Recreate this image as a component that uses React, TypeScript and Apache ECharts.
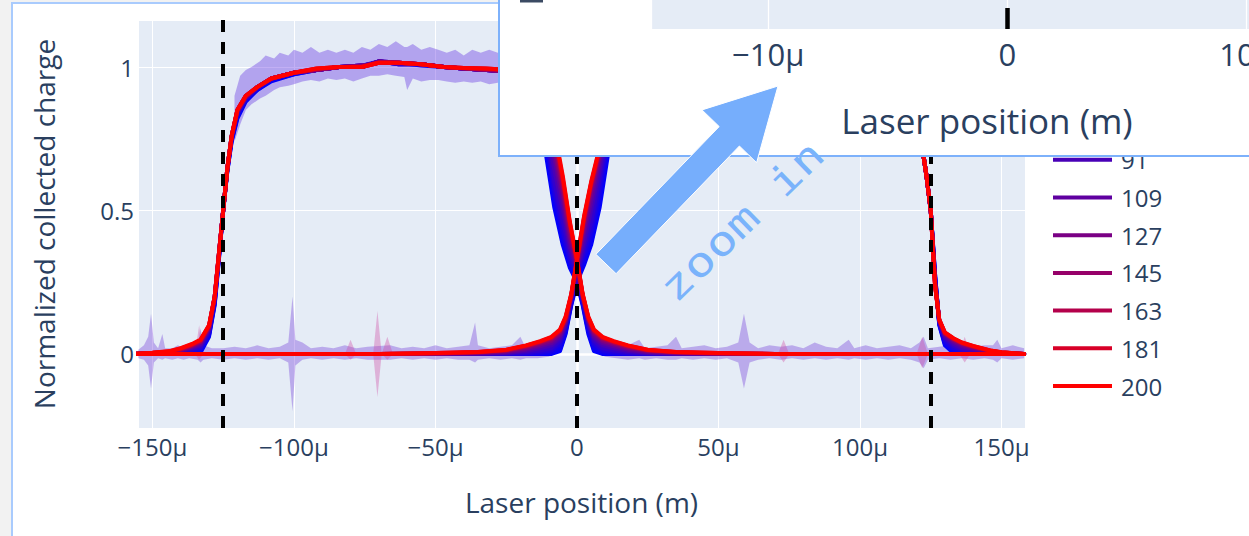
import React, { useEffect, useRef } from "react";
import * as echarts from "echarts";

// ---------------- data ----------------
const biases = ["1", "19", "37", "55", "73", "91", "109", "127", "145", "163", "181", "200"];
const biasColors = ["#0000ff", "#0600f9", "#1000ef", "#1f00e0", "#3200cd", "#4800b7", "#5f00a0", "#7a0085", "#960069", "#b4004b", "#d80027", "#ff0000"];
// legend entries visible below the inset (the earlier ones are hidden behind it)
const legendEntries = biases.slice(5);

// laser positions (µm) for the left pixel curves
const xA = [-158, -150, -144, -140, -136, -133, -130, -128, -126.5, -125, -123.5, -122, -120, -117, -113, -108, -100, -92, -84, -76, -70, -63, -55, -47, -40, -32, -24, -17, -12, -8, -5, -2.5, 0, 2, 4, 6, 9, 13, 18, 25, 35, 50, 70, 100, 130, 158];
// laser positions (µm) for the right pixel curves
const xB = [-158, -130, -100, -70, -50, -35, -25, -18, -13, -9, -6, -4, -2, 0, 2.5, 5, 8, 12, 17, 24, 32, 40, 47, 55, 63, 70, 76, 84, 92, 100, 108, 113, 117, 120, 122, 123.5, 125, 126.5, 128, 130, 133, 136, 140, 146, 150, 158];

const pixelA = [
  [0, 0, 0, 0, 0, 0.005, 0.06, 0.17, 0.33, 0.5, 0.64, 0.74, 0.82, 0.88, 0.92, 0.95, 0.975, 0.99, 1.0, 1.005, 1.02, 1.01, 1.01, 1.0, 0.995, 0.99, 0.985, 0.96, 0.76, 0.51, 0.38, 0.3, 0.25, 0.17, 0.07, 0.01, 0, 0, 0, 0, 0, 0, 0, 0, 0, 0],
  [0, 0, 0, 0, 0.002, 0.01, 0.065, 0.175, 0.335, 0.5, 0.64, 0.745, 0.825, 0.885, 0.92, 0.955, 0.975, 0.99, 1.0, 1.0, 1.02, 1.015, 1.005, 1.0, 0.995, 0.99, 0.985, 0.965, 0.78, 0.53, 0.39, 0.31, 0.255, 0.175, 0.08, 0.015, 0.002, 0, 0, 0, 0, 0, 0, 0, 0, 0],
  [0, 0, 0, 0.002, 0.005, 0.015, 0.07, 0.18, 0.34, 0.5, 0.645, 0.75, 0.83, 0.885, 0.925, 0.955, 0.98, 0.99, 1.0, 1.005, 1.015, 1.015, 1.01, 1.0, 0.995, 0.99, 0.985, 0.97, 0.8, 0.55, 0.41, 0.32, 0.26, 0.18, 0.09, 0.025, 0.006, 0.002, 0, 0, 0, 0, 0, 0, 0, 0],
  [0, 0, 0.002, 0.005, 0.01, 0.02, 0.075, 0.185, 0.34, 0.5, 0.645, 0.75, 0.835, 0.89, 0.925, 0.955, 0.98, 0.99, 1.0, 1.0, 1.02, 1.01, 1.01, 1.0, 0.995, 0.99, 0.985, 0.97, 0.83, 0.57, 0.43, 0.33, 0.27, 0.185, 0.1, 0.035, 0.012, 0.006, 0.002, 0, 0, 0, 0, 0, 0, 0],
  [0, 0, 0.003, 0.007, 0.015, 0.025, 0.08, 0.19, 0.345, 0.5, 0.65, 0.755, 0.84, 0.89, 0.925, 0.96, 0.98, 0.99, 1.0, 1.005, 1.015, 1.015, 1.01, 1.0, 0.995, 0.99, 0.985, 0.97, 0.85, 0.6, 0.46, 0.35, 0.28, 0.19, 0.105, 0.045, 0.02, 0.012, 0.006, 0.002, 0, 0, 0, 0, 0, 0],
  [0, 0.002, 0.004, 0.009, 0.02, 0.03, 0.085, 0.195, 0.345, 0.5, 0.65, 0.755, 0.84, 0.895, 0.93, 0.96, 0.98, 0.99, 1.0, 1.0, 1.02, 1.01, 1.01, 1.0, 0.995, 0.99, 0.985, 0.975, 0.87, 0.64, 0.5, 0.37, 0.29, 0.195, 0.11, 0.055, 0.03, 0.02, 0.01, 0.004, 0.001, 0, 0, 0, 0, 0],
  [0, 0.002, 0.005, 0.011, 0.023, 0.035, 0.09, 0.2, 0.35, 0.5, 0.65, 0.76, 0.845, 0.895, 0.93, 0.96, 0.98, 0.99, 1.0, 1.005, 1.015, 1.015, 1.01, 1.0, 0.995, 0.99, 0.985, 0.975, 0.89, 0.68, 0.53, 0.39, 0.3, 0.2, 0.115, 0.062, 0.038, 0.027, 0.015, 0.006, 0.002, 0, 0, 0, 0, 0],
  [0, 0.003, 0.006, 0.013, 0.026, 0.04, 0.09, 0.2, 0.35, 0.5, 0.65, 0.76, 0.845, 0.895, 0.93, 0.96, 0.98, 0.99, 1.0, 1.0, 1.02, 1.015, 1.01, 1.0, 0.995, 0.99, 0.985, 0.975, 0.9, 0.71, 0.56, 0.41, 0.31, 0.2, 0.12, 0.07, 0.045, 0.033, 0.02, 0.009, 0.003, 0.001, 0, 0, 0, 0],
  [0, 0.003, 0.007, 0.015, 0.029, 0.043, 0.095, 0.2, 0.35, 0.5, 0.65, 0.76, 0.85, 0.9, 0.93, 0.96, 0.98, 0.99, 1.0, 1.005, 1.015, 1.015, 1.01, 1.0, 0.995, 0.99, 0.985, 0.975, 0.91, 0.74, 0.58, 0.43, 0.32, 0.205, 0.122, 0.076, 0.051, 0.038, 0.024, 0.011, 0.005, 0.002, 0, 0, 0, 0],
  [0, 0.003, 0.008, 0.017, 0.031, 0.046, 0.097, 0.2, 0.35, 0.5, 0.65, 0.76, 0.85, 0.9, 0.93, 0.96, 0.98, 0.993, 1.0, 1.0, 1.015, 1.015, 1.01, 1.0, 0.997, 0.993, 0.988, 0.978, 0.92, 0.76, 0.6, 0.45, 0.325, 0.205, 0.125, 0.08, 0.055, 0.041, 0.027, 0.013, 0.006, 0.002, 0, 0, 0, 0],
  [0, 0.004, 0.009, 0.019, 0.033, 0.048, 0.1, 0.2, 0.35, 0.5, 0.65, 0.76, 0.85, 0.9, 0.93, 0.96, 0.98, 0.995, 1.0, 1.0, 1.015, 1.015, 1.01, 1.0, 0.997, 0.995, 0.99, 0.98, 0.925, 0.77, 0.61, 0.455, 0.328, 0.208, 0.128, 0.083, 0.058, 0.043, 0.029, 0.014, 0.007, 0.003, 0, 0, 0, 0],
  [0, 0.004, 0.01, 0.02, 0.035, 0.05, 0.1, 0.2, 0.35, 0.5, 0.65, 0.76, 0.85, 0.9, 0.93, 0.96, 0.98, 0.995, 1.0, 1.0, 1.015, 1.015, 1.01, 1.0, 0.997, 0.995, 0.99, 0.98, 0.93, 0.78, 0.62, 0.46, 0.33, 0.21, 0.13, 0.085, 0.06, 0.045, 0.03, 0.015, 0.007, 0.003, 0, 0, 0, 0],
];

const pixelB = [
  [0, 0, 0, 0, 0, 0, 0, 0, 0, 0, 0.01, 0.07, 0.17, 0.25, 0.31, 0.38, 0.51, 0.76, 0.95, 0.985, 0.99, 0.995, 1.005, 1.0, 1.0, 0.99, 0.995, 1.0, 0.99, 0.985, 0.97, 0.93, 0.88, 0.8, 0.72, 0.62, 0.5, 0.28, 0.1, 0.03, 0.003, 0, 0, 0, 0, 0],
  [0, 0, 0, 0, 0, 0, 0, 0, 0, 0.002, 0.015, 0.075, 0.175, 0.255, 0.32, 0.39, 0.53, 0.78, 0.955, 0.985, 0.99, 0.995, 1.005, 1.0, 1.0, 0.99, 0.995, 1.0, 0.99, 0.985, 0.97, 0.935, 0.88, 0.8, 0.72, 0.62, 0.5, 0.28, 0.105, 0.035, 0.006, 0.001, 0, 0, 0, 0],
  [0, 0, 0, 0, 0, 0, 0, 0, 0.002, 0.006, 0.025, 0.085, 0.18, 0.26, 0.33, 0.41, 0.55, 0.8, 0.96, 0.99, 0.99, 0.995, 1.005, 1.005, 1.0, 0.99, 0.995, 1.0, 0.99, 0.985, 0.97, 0.94, 0.885, 0.805, 0.72, 0.62, 0.5, 0.27, 0.105, 0.04, 0.012, 0.003, 0.001, 0, 0, 0],
  [0, 0, 0, 0, 0, 0, 0, 0.002, 0.006, 0.012, 0.035, 0.095, 0.185, 0.27, 0.35, 0.43, 0.58, 0.82, 0.96, 0.99, 0.995, 0.995, 1.005, 1.005, 1.0, 0.99, 0.995, 1.0, 0.99, 0.985, 0.975, 0.94, 0.885, 0.805, 0.72, 0.62, 0.5, 0.27, 0.11, 0.048, 0.02, 0.008, 0.003, 0, 0, 0],
  [0, 0, 0, 0, 0, 0, 0.002, 0.006, 0.012, 0.02, 0.045, 0.1, 0.19, 0.28, 0.37, 0.46, 0.61, 0.84, 0.965, 0.99, 0.995, 1.0, 1.005, 1.005, 1.0, 0.995, 0.995, 1.0, 0.99, 0.985, 0.975, 0.945, 0.89, 0.81, 0.72, 0.62, 0.5, 0.26, 0.11, 0.055, 0.028, 0.014, 0.007, 0.002, 0, 0],
  [0, 0, 0, 0, 0, 0.001, 0.004, 0.01, 0.02, 0.03, 0.055, 0.105, 0.195, 0.29, 0.39, 0.5, 0.64, 0.86, 0.965, 0.99, 0.995, 1.0, 1.005, 1.005, 1.0, 0.995, 0.995, 1.0, 0.99, 0.985, 0.975, 0.945, 0.89, 0.81, 0.72, 0.62, 0.5, 0.26, 0.115, 0.06, 0.035, 0.02, 0.012, 0.004, 0.001, 0],
  [0, 0, 0, 0, 0, 0.002, 0.006, 0.015, 0.027, 0.038, 0.062, 0.11, 0.2, 0.3, 0.42, 0.53, 0.67, 0.87, 0.97, 0.99, 0.995, 1.0, 1.008, 1.008, 1.0, 0.995, 0.998, 1.0, 0.993, 0.988, 0.977, 0.95, 0.895, 0.815, 0.72, 0.62, 0.5, 0.25, 0.115, 0.065, 0.042, 0.027, 0.017, 0.007, 0.003, 0],
  [0, 0, 0, 0, 0.001, 0.003, 0.009, 0.02, 0.033, 0.045, 0.07, 0.115, 0.2, 0.31, 0.44, 0.56, 0.69, 0.88, 0.97, 0.99, 0.998, 1.0, 1.008, 1.008, 1.0, 0.995, 0.998, 1.0, 0.993, 0.988, 0.978, 0.952, 0.895, 0.815, 0.72, 0.62, 0.5, 0.25, 0.117, 0.068, 0.047, 0.032, 0.021, 0.009, 0.004, 0],
  [0, 0, 0, 0, 0.002, 0.005, 0.011, 0.024, 0.038, 0.051, 0.076, 0.12, 0.205, 0.32, 0.46, 0.58, 0.7, 0.89, 0.97, 0.99, 0.998, 1.0, 1.01, 1.01, 1.0, 0.995, 0.998, 1.0, 0.994, 0.989, 0.979, 0.955, 0.898, 0.818, 0.72, 0.62, 0.5, 0.245, 0.118, 0.071, 0.05, 0.036, 0.024, 0.01, 0.005, 0],
  [0, 0, 0, 0, 0.002, 0.006, 0.013, 0.027, 0.041, 0.055, 0.08, 0.125, 0.205, 0.325, 0.47, 0.59, 0.71, 0.895, 0.97, 0.99, 1.0, 1.0, 1.01, 1.01, 1.0, 0.995, 1.0, 1.0, 0.995, 0.99, 0.98, 0.958, 0.9, 0.82, 0.72, 0.62, 0.5, 0.245, 0.119, 0.073, 0.053, 0.038, 0.026, 0.011, 0.005, 0],
  [0, 0, 0, 0, 0.003, 0.007, 0.014, 0.029, 0.043, 0.058, 0.083, 0.128, 0.208, 0.328, 0.475, 0.595, 0.715, 0.898, 0.97, 0.99, 1.0, 1.0, 1.01, 1.01, 1.0, 0.995, 1.0, 1.0, 0.995, 0.99, 0.98, 0.96, 0.9, 0.82, 0.72, 0.62, 0.5, 0.24, 0.12, 0.074, 0.054, 0.039, 0.027, 0.012, 0.006, 0],
  [0, 0, 0, 0, 0.003, 0.007, 0.015, 0.03, 0.045, 0.06, 0.085, 0.13, 0.21, 0.33, 0.48, 0.6, 0.72, 0.9, 0.97, 0.99, 1.0, 1.0, 1.01, 1.01, 1.0, 0.995, 1.0, 1.0, 0.995, 0.99, 0.98, 0.96, 0.9, 0.82, 0.72, 0.62, 0.5, 0.24, 0.12, 0.075, 0.055, 0.04, 0.028, 0.012, 0.006, 0],
];

// spread bands: [x (µm), lower, upper]
const baselineBand = [
  [-155, -0.015, 0.015], [-153, -0.02, 0.03], [-151.5, -0.04, 0.06], [-150.5, -0.12, 0.14], [-149.5, -0.03, 0.04], [-148, -0.015, 0.02], [-146.5, -0.02, 0.07], [-145.5, -0.015, 0.02], [-143, -0.02, 0.02], [-141, -0.015, 0.03], [-139, -0.02, 0.02], [-137, -0.015, 0.025], [-134, -0.02, 0.03], [-133, -0.03, 0.09], [-132, -0.02, 0.03], [-129, -0.015, 0.02], [-125, -0.02, 0.02], [-121, -0.015, 0.025], [-117, -0.02, 0.02], [-113, -0.015, 0.03], [-109, -0.02, 0.02], [-105, -0.015, 0.025], [-102, -0.03, 0.04], [-100.5, -0.2, 0.2], [-99.5, -0.04, 0.05], [-97, -0.02, 0.04], [-94, -0.015, 0.02], [-90, -0.02, 0.025], [-86, -0.015, 0.02], [-82, -0.02, 0.03], [-78, -0.015, 0.02], [-74, -0.02, 0.025], [-66, -0.02, 0.03], [-62, -0.015, 0.02], [-58, -0.02, 0.025], [-54, -0.015, 0.02], [-50, -0.02, 0.03], [-46, -0.015, 0.02], [-42, -0.02, 0.025], [-38, -0.02, 0.03], [-36, -0.03, 0.11], [-35, -0.02, 0.03], [-31, -0.015, 0.02], [-27, -0.02, 0.025], [-23, -0.015, 0.03], [-20, -0.02, 0.06], [-18, -0.015, 0.02], [-14, -0.015, 0.03], [-10, -0.01, 0.02], [-8, 0, 0], [8, 0, 0], [10, -0.01, 0.03], [14, -0.015, 0.025], [18, -0.02, 0.03], [22, -0.015, 0.05], [24, -0.02, 0.02], [28, -0.015, 0.025], [32, -0.02, 0.03], [35, -0.02, 0.06], [37, -0.015, 0.02], [41, -0.02, 0.025], [45, -0.015, 0.03], [49, -0.02, 0.02], [53, -0.015, 0.025], [57, -0.03, 0.04], [59, -0.12, 0.14], [61, -0.03, 0.04], [64, -0.02, 0.02], [68, -0.015, 0.03], [72, -0.02, 0.025], [76, -0.015, 0.03], [80, -0.02, 0.02], [84, -0.015, 0.04], [88, -0.02, 0.025], [92, -0.015, 0.02], [96, -0.02, 0.05], [98, -0.015, 0.02], [102, -0.02, 0.03], [106, -0.015, 0.02], [110, -0.02, 0.025], [114, -0.015, 0.03], [118, -0.02, 0.02], [121, -0.03, 0.04], [122.5, -0.05, 0.06], [124, -0.02, 0.02], [128, -0.015, 0.025], [132, -0.02, 0.03], [136, -0.015, 0.03], [140, -0.02, 0.025], [144, -0.015, 0.03], [147, -0.02, 0.03], [148.5, -0.03, 0.05], [150, -0.015, 0.02], [154, -0.02, 0.03], [158, -0.015, 0.02],
];
const pinkBand = [
  [-135, 0, 0], [-133.5, -0.02, 0.1], [-132, 0, 0], [-82, 0, 0], [-80, -0.02, 0.05], [-78, 0, 0], [-72, 0, 0], [-70.5, -0.15, 0.15], [-69, 0, 0], [-67, -0.02, 0.06], [-65, 0, 0], [71, 0, 0], [73, -0.03, 0.05], [75, 0, 0], [120, 0, 0], [122, -0.05, 0.06], [124, 0, 0], [135, 0, 0], [137, -0.03, 0.06], [139, 0, 0],
];
const plateauBand = [
  [-121, 0.74, 0.9], [-119, 0.8, 0.97], [-117, 0.85, 0.99], [-115, 0.87, 1.0], [-112, 0.89, 1.02], [-110, 0.9, 1.04], [-107, 0.92, 1.03], [-105, 0.93, 1.05], [-102, 0.935, 1.04], [-100, 0.94, 1.06], [-97, 0.95, 1.05], [-94, 0.955, 1.07], [-91, 0.95, 1.05], [-88, 0.96, 1.06], [-85, 0.955, 1.05], [-82, 0.96, 1.06], [-79, 0.95, 1.05], [-76, 0.96, 1.07], [-73, 0.97, 1.06], [-70, 0.97, 1.08], [-67, 0.975, 1.07], [-64, 0.97, 1.09], [-61, 0.965, 1.07], [-60, 0.92, 1.07], [-58, 0.96, 1.08], [-55, 0.95, 1.06], [-52, 0.955, 1.07], [-49, 0.955, 1.06], [-46, 0.95, 1.05], [-43, 0.945, 1.06], [-40, 0.95, 1.04], [-37, 0.945, 1.06], [-34, 0.95, 1.05], [-31, 0.94, 1.06], [-28, 0.945, 1.05], [-25, 0.94, 1.05],
];

const padEdges = [-125, 0, 125];
const insetEdges = [0];

// ---------------- styling ----------------
const FONT = "'Open Sans', verdana, arial, sans-serif";
const TXT = "#2a3f5f";
const PLOT_BG = "#e5ecf6";

const fmtMicro = (v: number) => {
  if (v === 0) return "0";
  const a = Math.round(Math.abs(v) * 1000) / 1000;
  return (v < 0 ? "\u2212" : "") + a + "\u03bc";
};

function bandSeries(key: string, pts: number[][], color: string): any {
  return {
    name: key,
    type: "custom",
    silent: true,
    clip: true,
    z: 2,
    data: [[pts[0][0], pts[0][1]]],
    renderItem: (_params: any, api: any) => {
      const upper = pts.map((p) => api.coord([p[0], p[2]]));
      const lower = pts
        .slice()
        .reverse()
        .map((p) => api.coord([p[0], p[1]]));
      return {
        type: "polygon",
        shape: { points: upper.concat(lower) },
        style: { fill: color, stroke: "none" },
      };
    },
  };
}

// arrow annotation outline
const arrowPts = [
  [595.9, 254.3], [719.2, 126.6], [702, 109.9], [778, 86], [756.6, 162.7], [739.4, 146.0], [616.1, 273.7],
];

export default function App() {
  const ref = useRef<HTMLDivElement>(null);

  useEffect(() => {
    if (!ref.current) return;
    const chart = echarts.init(ref.current, null, { renderer: "svg" });

    const lineSeries: any[] = [];
    biases.forEach((b, k) => {
      const c = biasColors[k];
      [
        { xs: xA, ys: pixelA[k] },
        { xs: xB, ys: pixelB[k] },
      ].forEach(({ xs, ys }) => {
        lineSeries.push({
          name: b,
          type: "line",
          data: xs.map((x, i) => [x, ys[i]]),
          symbol: "none",
          silent: true,
          lineStyle: { color: c, width: 4, join: "round", cap: "round" },
          itemStyle: { color: c },
          z: 2,
        });
      });
    });

    const option: any = {
      animation: false,
      grid: [
        { left: 138, right: 224, top: 20, bottom: 108, show: true, backgroundColor: PLOT_BG, borderWidth: 0, z: 0, outerBoundsMode: "none", containLabel: false },
        { left: 651, right: -74, top: -100, bottom: 507, show: true, backgroundColor: PLOT_BG, borderWidth: 0, z: 6, outerBoundsMode: "none", containLabel: false },
      ],
      xAxis: [
        {
          type: "value",
          gridIndex: 0,
          min: -155.1,
          max: 158.3,
          splitNumber: 6,
          minInterval: 50,
          maxInterval: 50,
          axisLine: { show: false },
          axisTick: { show: false },
          splitLine: { lineStyle: { color: "#ffffff", width: 1 } },
          axisLabel: { formatter: fmtMicro, fontSize: 24, color: TXT, fontFamily: FONT, margin: 6, showMinLabel: false, showMaxLabel: false },
          name: "Laser position (m)",
          nameLocation: "middle",
          nameGap: 60,
          nameTextStyle: { fontSize: 28, color: TXT, fontFamily: FONT },
        },
        {
          type: "value",
          gridIndex: 1,
          min: -14.9,
          max: 13.2,
          splitNumber: 3,
          minInterval: 10,
          maxInterval: 10,
          z: 6,
          axisLine: { show: false },
          axisTick: { show: false },
          splitLine: { lineStyle: { color: "#ffffff", width: 1.3 } },
          axisLabel: { formatter: fmtMicro, fontSize: 31, color: TXT, fontFamily: FONT, margin: 9, showMinLabel: false, showMaxLabel: false },
          name: "Laser position (m)",
          nameLocation: "middle",
          nameGap: 74,
          nameTextStyle: { fontSize: 35, color: TXT, fontFamily: FONT },
        },
      ],
      yAxis: [
        {
          type: "value",
          gridIndex: 0,
          min: -0.258,
          max: 1.164,
          splitNumber: 3,
          minInterval: 0.5,
          maxInterval: 0.5,
          axisLine: { show: false },
          axisTick: { show: false },
          splitLine: { lineStyle: { color: "#ffffff", width: 1 } },
          axisLabel: { fontSize: 24, color: TXT, fontFamily: FONT, margin: 4, showMinLabel: false, showMaxLabel: false },
          name: "Normalized collected charge",
          nameLocation: "middle",
          nameGap: 80,
          nameTextStyle: { fontSize: 28, color: TXT, fontFamily: FONT },
        },
        { type: "value", gridIndex: 1, min: 0, max: 1, show: false },
      ],
      legend: {
        data: legendEntries,
        orient: "vertical",
        left: 1053,
        top: 147.8,
        padding: 0,
        icon: "rect",
        itemWidth: 59,
        itemHeight: 4,
        itemGap: 13.7,
        selectedMode: false,
        textStyle: { fontSize: 24, color: TXT, fontFamily: FONT, padding: [0, 0, 0, 4] },
        z: 4,
      },
      series: [
        {
          name: "zerolines",
          type: "line",
          data: [],
          z: 1,
          silent: true,
          markLine: {
            z: 1,
            silent: true,
            symbol: "none",
            label: { show: false },
            lineStyle: { color: "#ffffff", width: 2.5, type: "solid" },
            data: [{ xAxis: 0 }, { yAxis: 0 }],
          },
        },
        bandSeries("baseline", baselineBand, "rgba(105,50,215,0.35)"),
        bandSeries("pink", pinkBand, "rgba(205,70,160,0.35)"),
        bandSeries("plateau", plateauBand, "rgba(95,45,225,0.38)"),
        ...lineSeries,
        {
          name: "edges",
          type: "line",
          data: [],
          z: 3,
          silent: true,
          markLine: {
            z: 3,
            silent: true,
            symbol: "none",
            label: { show: false },
            lineStyle: { color: "#000000", width: 4, type: [12, 10] },
            data: padEdges.map((x) => ({ xAxis: x })),
          },
        },
        {
          name: "insetEdges",
          type: "line",
          xAxisIndex: 1,
          yAxisIndex: 1,
          data: [],
          z: 7,
          silent: true,
          markLine: {
            z: 7,
            silent: true,
            symbol: "none",
            label: { show: false },
            lineStyle: { color: "#000000", width: 4.5, type: [21, 14] },
            data: insetEdges.map((x) => ({ xAxis: x })),
          },
        },
      ],
      graphic: [
        {
          type: "rect",
          z: 5,
          silent: true,
          shape: { x: 499, y: -10, width: 800, height: 166 },
          style: { fill: "#ffffff", stroke: "#7db1fb", lineWidth: 2 },
        },
        {
          type: "rect",
          z: 9,
          silent: true,
          shape: { x: 520, y: 0, width: 23, height: 2.5 },
          style: { fill: "#3b4a63" },
        },
        {
          type: "polygon",
          z: 20,
          silent: true,
          shape: { points: arrowPts },
          style: { fill: "#76aefc", stroke: "#ffffff", lineWidth: 1 },
        },
        {
          type: "text",
          z: 20,
          silent: true,
          x: 742,
          y: 221,
          rotation: 0.77,
          scaleY: 0.8,
          style: {
            text: "zoom in",
            fill: "#7ab3fb",
            fontSize: 50,
            fontFamily: "'DejaVu Sans Mono', monospace",
            align: "center",
            verticalAlign: "middle",
          },
        },
      ],
    };

    chart.setOption(option);
    return () => chart.dispose();
  }, []);

  return (
    <div style={{ position: "fixed", left: 0, top: 0, width: 1249, height: 536, overflow: "hidden", background: "#f2f2f2" }}>
      <div
        style={{
          position: "absolute",
          left: 11,
          top: 2,
          width: 1300,
          height: 600,
          background: "#ffffff",
          border: "2px solid #a9cbfd",
          boxSizing: "border-box",
        }}
      />
      <div ref={ref} style={{ position: "absolute", left: 0, top: 0, width: 1249, height: 536 }} />
    </div>
  );
}
